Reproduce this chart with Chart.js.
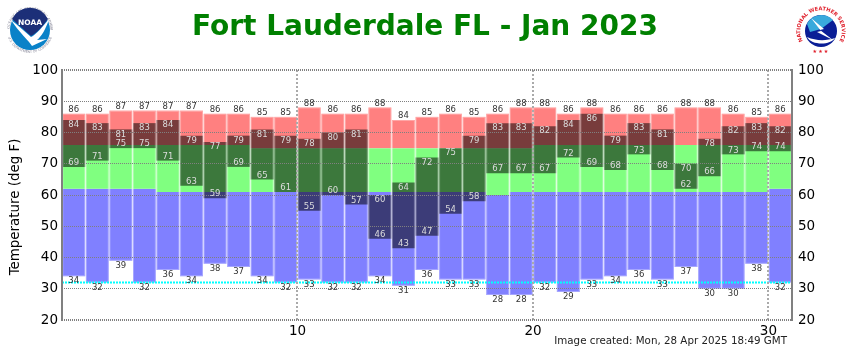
<!DOCTYPE html>
<html>
<head>
<meta charset="utf-8">
<title>Fort Lauderdale FL - Jan 2023</title>
<script src="https://cdn.jsdelivr.net/npm/chart.js@4/dist/chart.umd.min.js"></script>
<style>
    html, body { margin: 0; padding: 0; background: #fff; }
    #wrap { position: relative; width: 850px; height: 350px; overflow: hidden; }
    #chart { position: absolute; left: 0; top: 0; }
    .logo { position: absolute; }
</style>
</head>
<body>
<div id="wrap">
    <canvas id="chart" width="850" height="350"></canvas>

    <svg class="logo" style="left:4px;top:4px" width="52" height="52" viewBox="0 0 52 52">
        <defs>
            <path id="noaaTop" d="M5.5 26a20.5 20.5 0 0 1 41 0"/>
            <path id="noaaBottom" d="M3 26a23 23 0 0 0 46 0"/>
        </defs>
        <circle cx="26" cy="26" r="25" fill="#fff"/>
        <text font-family="DejaVu Sans" font-size="3.4" fill="#889"><textPath href="#noaaTop" startOffset="50%" text-anchor="middle">NATIONAL OCEANIC AND ATMOSPHERIC ADMINISTRATION</textPath></text>
        <text font-family="DejaVu Sans" font-size="3.4" fill="#889"><textPath href="#noaaBottom" startOffset="50%" text-anchor="middle">U.S. DEPARTMENT OF COMMERCE</textPath></text>
        <circle cx="26" cy="26" r="20" fill="#0a82c8"/>
        <path d="M8 15a20 20 0 0 1 36 0C39 22 33 29 27 32 20 26 14 20 8 15Z" fill="#1c2f78"/>
        <path d="M7 16C14 21 20 27 27 33 32 31 39 22 45 15 42 25 37 33 33 36L43 35 28 42C26 38 14 27 7 16Z" fill="#fff"/>
        <text x="26" y="21" text-anchor="middle" font-family="DejaVu Sans" font-weight="bold" font-size="7.5" fill="#fff">NOAA</text>
    </svg>

    <svg class="logo" style="left:796px;top:6px" width="50" height="50" viewBox="0 0 50 50">
        <defs>
            <path id="nwsRing" d="M8 37A20.8 20.8 0 1 1 42 37"/>
        </defs>
        <circle cx="25" cy="25" r="24.5" fill="#fff"/>
        <text font-family="DejaVu Sans" font-weight="bold" font-size="5.2" fill="#e0202c"><textPath href="#nwsRing" startOffset="50%" text-anchor="middle">NATIONAL WEATHER SERVICE</textPath></text>
        <circle cx="25" cy="25" r="16" fill="#0a1e96"/>
        <path d="M11 18a16 16 0 0 1 26-4L25 23 14 26Z" fill="#39a9dc"/>
        <path d="M11 31C20 35 30 35 39 32 35 39 16 40 11 31Z" fill="#fff"/>
        <path d="M15 12 28 23 24 24 37 34 21 26 25 25Z" fill="#fff"/>
        <text x="25" y="47" text-anchor="middle" font-family="DejaVu Sans" font-size="5" fill="#e0202c" letter-spacing="1.2">★★★</text>
    </svg>
</div>

<script>
const titleText = "Fort Lauderdale FL - Jan 2023"
const yAxisTitle = "Temperature (deg F)"
const createdText = "Image created: Mon, 28 Apr 2025 18:49 GMT"

const days = [1,2,3,4,5,6,7,8,9,10,11,12,13,14,15,16,17,18,19,20,21,22,23,24,25,26,27,28,29,30,31]
const recordHigh = [86,86,87,87,87,87,86,86,85,85,88,86,86,88,84,85,86,85,86,88,88,86,88,86,86,86,88,88,86,85,86]
const normalHigh = [76,76,76,76,76,76,76,76,75,75,75,75,75,75,75,75,75,75,75,75,76,76,76,76,76,76,76,76,76,76,76]
const normalLow = [62,62,62,62,61,61,61,61,61,61,61,61,61,61,61,61,61,61,60,61,61,61,61,61,61,61,61,61,61,61,62]
const recordLow = [34,32,39,32,36,34,38,37,34,32,33,32,32,34,31,36,33,33,28,28,32,29,33,34,36,33,37,30,30,38,32]
const observedHigh = [84,83,81,83,84,79,77,79,81,79,78,80,81,60,64,72,75,79,83,83,82,84,86,79,83,81,70,78,82,83,82]
const observedLow = [69,71,75,75,71,63,59,69,65,61,55,60,57,46,43,47,54,58,67,67,67,72,69,68,73,68,62,66,73,74,74]
const freezingLine = [32, 32]
const xRange = [0, 31]

// a day fills the slot between tick d-1 and tick d
function floatBars(low, high) {
    return days.map((d, i) => ({ x: d - 0.5, y: [low[i], high[i]] }))
}

function barDataset(label, low, high, color, order) {
    return {
        label: label,
        data: floatBars(low, high),
        backgroundColor: color,
        borderWidth: 0,
        grouped: false,
        barPercentage: 0.97,
        categoryPercentage: 1,
        order: order
    }
}

const outline = barDataset("Outline", recordLow, recordHigh, "rgba(0,0,0,0)", 1)
outline.borderWidth = 1
outline.borderSkipped = false
outline.borderColor = "rgba(255,255,255,0.3)"

const barLabels = {
    id: "barLabels",
    afterDraw(chart) {
        const ctx = chart.ctx
        const x = chart.scales.x
        const y = chart.scales.y
        const area = chart.chartArea
        ctx.save()
        // left and right sides of the plot frame
        ctx.strokeStyle = "#808080"
        ctx.lineWidth = 2
        ctx.beginPath()
        ctx.moveTo(area.left, area.top - 1)
        ctx.lineTo(area.left, area.bottom + 1)
        ctx.moveTo(area.right, area.top - 1)
        ctx.lineTo(area.right, area.bottom + 1)
        ctx.stroke()

        ctx.font = "8.5px 'DejaVu Sans'"
        ctx.textAlign = "center"
        ctx.textBaseline = "middle"
        days.forEach((d, i) => {
            const px = x.getPixelForValue(d - 0.5)
            ctx.fillStyle = "#333"
            ctx.fillText(recordHigh[i], px, y.getPixelForValue(recordHigh[i]) - 4)
            ctx.fillText(recordLow[i], px, y.getPixelForValue(recordLow[i]) + 5)
            ctx.fillStyle = "#ddd"
            ctx.fillText(observedHigh[i], px, y.getPixelForValue(observedHigh[i]) + 5)
            ctx.fillText(observedLow[i], px, y.getPixelForValue(observedLow[i]) - 4)
        })

        ctx.fillStyle = "#222"
        ctx.font = "10.3px 'DejaVu Sans'"
        ctx.textAlign = "right"
        ctx.fillText(createdText, 787, 341)

        ctx.fillStyle = "#000"
        ctx.font = "13.4px 'DejaVu Sans'"
        ctx.textAlign = "center"
        ctx.translate(16, 207)
        ctx.rotate(-Math.PI / 2)
        ctx.fillText(yAxisTitle, 0, 0)
        ctx.restore()
    }
}

const tickFont = { family: "'DejaVu Sans'", size: 13.5 }

new Chart(document.querySelector("#chart").getContext("2d"), {
    type: "bar",
    data: {
        datasets: [
            {
                type: "line",
                label: "Freezing",
                data: xRange.map((x, i) => ({ x: x, y: freezingLine[i] })),
                borderColor: "#00ffff",
                borderWidth: 2,
                borderDash: [2, 1],
                pointRadius: 0,
                order: 0
            },
            outline,
            barDataset("Observed", observedLow, observedHigh, "rgba(0,0,0,0.53)", 2),
            barDataset("Record high", normalHigh, recordHigh, "#ff8080", 3),
            barDataset("Normal", normalLow, normalHigh, "#80ff80", 4),
            barDataset("Record low", recordLow, normalLow, "#8080ff", 5)
        ]
    },
    plugins: [barLabels],
    options: {
        responsive: false,
        animation: false,
        layout: { padding: 0 },
        plugins: {
            legend: { display: false },
            tooltip: { enabled: false },
            title: {
                display: true,
                text: titleText,
                color: "#008000",
                font: { family: "'DejaVu Sans'", size: 28, weight: "bold", lineHeight: 1.2 },
                padding: { top: 11, bottom: 25.4 }
            }
        },
        scales: {
            x: {
                type: "linear",
                offset: false,
                min: xRange[0],
                max: xRange[1],
                afterFit: (scale) => { scale.height = 30 },
                grid: {
                    offset: false,
                    z: 1,
                    drawTicks: false,
                    color: "#aaaaaa",
                    lineWidth: 2
                },
                border: { display: false, dash: [2, 2] },
                ticks: {
                    stepSize: 10,
                    includeBounds: false,
                    autoSkip: false,
                    maxRotation: 0,
                    padding: 3,
                    color: "#000",
                    font: tickFont,
                    callback: (v) => (v === 0 ? "" : v)
                }
            },
            y: {
                min: 20,
                max: 100,
                afterFit: (scale) => { scale.width = 62 },
                grid: {
                    z: 1,
                    drawTicks: false,
                    color: "#808080",
                    lineWidth: (c) => (c.tick && (c.tick.value === 100 || c.tick.value === 20) ? 2 : 1)
                },
                border: { display: false, dash: [1, 1] },
                ticks: { stepSize: 10, padding: 4, color: "#000", font: tickFont }
            },
            y2: {
                position: "right",
                min: 20,
                max: 100,
                afterFit: (scale) => { scale.width = 58 },
                grid: { drawOnChartArea: false, drawTicks: false },
                border: { display: false },
                ticks: { stepSize: 10, padding: 6, color: "#000", font: tickFont }
            }
        }
    }
})
</script>
</body>
</html>
